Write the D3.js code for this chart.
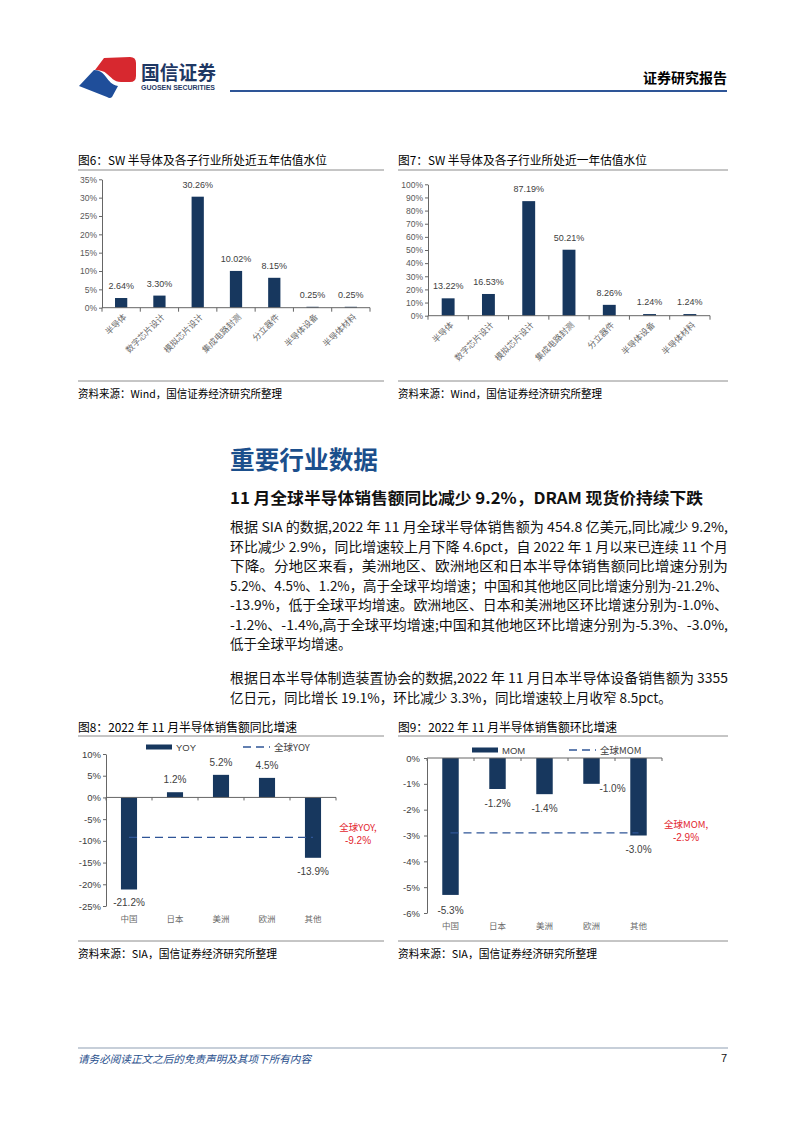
<!DOCTYPE html>
<html><head><meta charset="utf-8">
<script src="https://cdn.jsdelivr.net/npm/d3@7"></script>
<style>body{margin:0;background:#fff}</style>
</head><body>
<svg id="page" width="802" height="1133"></svg>
<script>
// ---------------- data ----------------
const subIndustries = ["半导体","数字芯片设计","模拟芯片设计","集成电路封测","分立器件","半导体设备","半导体材料"];
const valuation5y = [2.64, 3.30, 30.26, 10.02, 8.15, 0.25, 0.25];
const valuation1y = [13.22, 16.53, 87.19, 50.21, 8.26, 1.24, 1.24];
const ticks5y = [0, 5, 10, 15, 20, 25, 30, 35];
const ticks1y = [0, 10, 20, 30, 40, 50, 60, 70, 80, 90, 100];
const regions = ["中国","日本","美洲","欧洲","其他"];
const yoyValues = [-21.2, 1.2, 5.2, 4.5, -13.9];
const globalYoy = -9.2;
const momValues = [-5.3, -1.2, -1.4, -1.0, -3.0];
const globalMom = -2.9;
const ticksYoy = [10, 5, 0, -5, -10, -15, -20, -25];
const ticksMom = [0, -1, -2, -3, -4, -5, -6];
const bodyPara1 = [
  "根据 SIA 的数据,2022 年 11 月全球半导体销售额为 454.8 亿美元,同比减少 9.2%,",
  "环比减少 2.9%，同比增速较上月下降 4.6pct，自 2022 年 1 月以来已连续 11 个月",
  "下降。分地区来看，美洲地区、欧洲地区和日本半导体销售额同比增速分别为",
  "5.2%、4.5%、1.2%，高于全球平均增速；中国和其他地区同比增速分别为-21.2%、",
  "-13.9%，低于全球平均增速。欧洲地区、日本和美洲地区环比增速分别为-1.0%、",
  "-1.2%、-1.4%,高于全球平均增速;中国和其他地区环比增速分别为-5.3%、-3.0%,",
  "低于全球平均增速。"
];
const bodyPara2 = [
  "根据日本半导体制造装置协会的数据,2022 年 11 月日本半导体设备销售额为 3355",
  "亿日元，同比增长 19.1%，环比减少 3.3%，同比增速较上月收窄 8.5pct。"
];

// ---------------- style ----------------
const CJK = "'Noto Sans CJK SC','Noto Sans',sans-serif";
const LAT = "'Liberation Sans',Arial,sans-serif";
const NAVY = "#17375E";
const AXIS = "#666666";
const TXT = "#404040";
const RED = "#E3262F";
const DASH = "#2F5597";

const svg = d3.select("#page");

function txt(x, y, s, o = {}) {
  const t = svg.append("text").attr("x", x).attr("y", y).text(s)
    .attr("font-family", o.family || CJK)
    .attr("font-size", o.size || 12)
    .attr("fill", o.fill || "#000")
    .attr("dominant-baseline", "central")
    .attr("text-anchor", o.anchor || "start");
  if (o.weight) t.attr("font-weight", o.weight);
  if (o.style) t.attr("font-style", o.style);
  if (o.len) t.attr("textLength", o.len).attr("lengthAdjust", "spacingAndGlyphs");
  return t;
}
function hline(x1, x2, y, color, w) {
  svg.append("line").attr("x1", x1).attr("x2", x2).attr("y1", y).attr("y2", y)
    .attr("stroke", color).attr("stroke-width", w);
}

// ---------------- header ----------------
svg.append("path").attr("fill", "#D7282F")
  .attr("d", "M95,70 L104,58 L130,57 Q136,57 136,63 L136,76 Q136,82 130,82 L121,82 C114,82 111,77 107,74 C104,71 100,70 95,70 Z");
svg.append("path").attr("fill", "#1F4E9A")
  .attr("d", "M79,86 L94,70 C100,70 103,73 106,77 C109,81 112,85 118,86 L112,97 Q110,99 107,97 Z");
txt(141, 71, "国信证券", {size: 19, fill: "#1F3864", len: 75, weight: "bold"});
txt(141, 87, "GUOSEN SECURITIES", {family: LAT, size: 7.5, weight: "bold", fill: "#1F3864", len: 74});
txt(727, 77, "证券研究报告", {size: 14, weight: "bold", anchor: "end"});
hline(230, 727, 91, "#2E5597", 2);

// ---------------- positive bar charts (fig 6, 7) ----------------
function valuationChart(o) {
  txt(o.left, 159, o.title, {size: 12, fill: "#000", len: o.titleLen});
  hline(o.left, o.right, 170, "#8C8C8C", 1);
  const x = d3.scaleBand().domain(subIndustries).range([o.x0, o.x1])
    .paddingInner(0.68).paddingOuter(0.34);
  const y = d3.scaleLinear().domain([0, o.max]).range([o.yb, o.yt]);
  const g = svg.append("g");
  g.selectAll("rect.bar").data(o.values).join("rect")
    .attr("x", (d, i) => x(subIndustries[i]))
    .attr("y", d => y(d))
    .attr("width", x.bandwidth())
    .attr("height", d => o.yb - y(d))
    .attr("fill", NAVY);
  g.selectAll("text.val").data(o.values).join("text")
    .attr("x", (d, i) => x(subIndustries[i]) + x.bandwidth() / 2)
    .attr("y", d => y(d) - 12)
    .attr("text-anchor", "middle").attr("dominant-baseline", "central")
    .attr("font-family", LAT).attr("font-size", 9).attr("fill", TXT)
    .text(d => d.toFixed(2) + "%");
  const ya = svg.append("g").attr("transform", `translate(${o.x0},0)`)
    .call(d3.axisLeft(y).tickValues(o.ticks).tickFormat(d => d + "%").tickSize(3).tickSizeOuter(0).tickPadding(2));
  ya.select(".domain").attr("stroke", AXIS);
  ya.selectAll(".tick line").attr("stroke", AXIS);
  ya.selectAll(".tick text").attr("font-family", LAT).attr("font-size", 8.5).attr("fill", "#595959");
  hline(o.x0, o.x1, o.yb, AXIS, 1);
  const step = x.step();
  d3.range(subIndustries.length + 1).forEach(i => {
    const xx = o.x0 + i * step;
    svg.append("line").attr("x1", xx).attr("x2", xx).attr("y1", o.yb).attr("y2", o.yb + 4).attr("stroke", AXIS);
  });
  subIndustries.forEach(c => {
    const cx = x(c) + x.bandwidth() / 2;
    svg.append("text").attr("transform", `translate(${cx + 3},${o.yb + 7}) rotate(-45)`)
      .attr("text-anchor", "end").attr("dominant-baseline", "central")
      .attr("font-family", CJK).attr("font-size", 8.5).attr("fill", "#6b6b6b")
      .text(c);
  });
  hline(o.left, o.right, 381, "#8C8C8C", 1);
  txt(o.left, 393, "资料来源：Wind，国信证券经济研究所整理", {size: 11, len: 204});
}

valuationChart({left: 78, right: 384, title: "图6：SW 半导体及各子行业所处近五年估值水位", titleLen: 249,
  x0: 102, x1: 370, yt: 179.3, yb: 307.7, max: 35, ticks: ticks5y, values: valuation5y});
valuationChart({left: 398, right: 728, title: "图7：SW 半导体及各子行业所处近一年估值水位", titleLen: 249,
  x0: 428, x1: 710, yt: 184.3, yb: 315.7, max: 100, ticks: ticks1y, values: valuation1y});

// ---------------- section text ----------------
txt(230, 458, "重要行业数据", {size: 24.5, weight: "bold", fill: "#1B4F8C", len: 148});
txt(230, 497, "11 月全球半导体销售额同比减少 9.2%，DRAM 现货价持续下跌", {size: 16, weight: "bold", fill: "#111", len: 473});
bodyPara1.forEach((s, i) => {
  const t = txt(230, 526 + i * 19.5, s, {size: 13.5, fill: "#111"});
  if (i < bodyPara1.length - 1) t.attr("textLength", 498).attr("lengthAdjust", "spacingAndGlyphs");
});
bodyPara2.forEach((s, i) => {
  const t = txt(230, 677 + i * 19.5, s, {size: 13.5, fill: "#111"});
  if (i < bodyPara2.length - 1) t.attr("textLength", 498).attr("lengthAdjust", "spacingAndGlyphs");
});

// ---------------- growth charts (fig 8, 9) ----------------
function growthChart(o) {
  txt(o.left, 726, o.title, {size: 12, len: o.titleLen});
  hline(o.left, o.right, 736, "#8C8C8C", 1);
  const x = d3.scaleBand().domain(regions).range([o.x0, o.x1]).paddingInner(0.65).paddingOuter(0.325);
  const y = d3.scaleLinear().domain(o.domain).range([o.yb, o.yt]);
  const y0 = y(0);
  const g = svg.append("g");
  g.selectAll("rect").data(o.values).join("rect")
    .attr("x", (d, i) => x(regions[i]))
    .attr("y", d => Math.min(y(d), y0))
    .attr("width", x.bandwidth())
    .attr("height", d => Math.abs(y(d) - y0))
    .attr("fill", NAVY);
  const ya = svg.append("g").attr("transform", `translate(${o.x0},0)`)
    .call(d3.axisLeft(y).tickValues(o.ticks).tickFormat(d => d + "%").tickSize(3).tickSizeOuter(0).tickPadding(o.tickPad));
  ya.select(".domain").attr("stroke", AXIS);
  ya.selectAll(".tick line").attr("stroke", AXIS);
  ya.selectAll(".tick text").attr("font-family", LAT).attr("font-size", 9.5).attr("fill", TXT);
  hline(o.x0, o.x1, y0, AXIS, 1);
  d3.range(regions.length + 1).forEach(i => {
    const xx = o.x0 + i * x.step();
    svg.append("line").attr("x1", xx).attr("x2", xx).attr("y1", y0).attr("y2", y0 + 3).attr("stroke", AXIS);
  });
  const cx0 = x(regions[0]) + x.bandwidth() / 2, cx1 = x(regions[regions.length - 1]) + x.bandwidth() / 2;
  svg.append("line").attr("x1", cx0).attr("x2", cx1).attr("y1", y(o.global)).attr("y2", y(o.global))
    .attr("stroke", DASH).attr("stroke-width", 1.3).attr("stroke-dasharray", "8,5");
  g.selectAll("text.v").data(o.values).join("text")
    .attr("x", (d, i) => x(regions[i]) + x.bandwidth() / 2 + (o.nudge[i] ? o.nudge[i][0] : 0))
    .attr("y", (d, i) => (d >= 0 ? y(d) - 12.5 : y(d) + o.negOff) + (o.nudge[i] ? o.nudge[i][1] : 0))
    .attr("text-anchor", "middle").attr("dominant-baseline", "central")
    .attr("font-family", LAT).attr("font-size", 10).attr("fill", TXT)
    .text(d => d.toFixed(1) + "%");
  regions.forEach(r => {
    txt(x(r) + x.bandwidth() / 2, o.catY, r, {size: 8.5, fill: "#6b6b6b", anchor: "middle"});
  });
  svg.append("rect").attr("x", o.legX).attr("y", o.legY - 2.5).attr("width", 26).attr("height", 5).attr("fill", NAVY);
  txt(o.legX + 30, o.legY, o.name, {family: LAT, size: 9.5, fill: TXT});
  svg.append("line").attr("x1", o.legX + 97).attr("x2", o.legX + 124).attr("y1", o.legY).attr("y2", o.legY)
    .attr("stroke", DASH).attr("stroke-width", 1.3).attr("stroke-dasharray", "8,5");
  txt(o.legX + 128, o.legY, "全球" + o.name, {size: 9.5, fill: TXT});
  txt(o.annX, o.annY, "全球" + o.name + ",", {size: 9.5, fill: RED, anchor: "middle"});
  txt(o.annX, o.annY + 13, o.global.toFixed(1) + "%", {family: LAT, size: 10, fill: RED, anchor: "middle"});
  hline(o.left, o.right, 941, "#8C8C8C", 1);
  txt(o.left, 953, "资料来源：SIA，国信证券经济研究所整理", {size: 11, len: 199});
}

growthChart({left: 78, right: 384, title: "图8：2022 年 11 月半导体销售额同比增速", titleLen: 219,
  x0: 106, x1: 336, yt: 754, yb: 906, domain: [-25, 10], ticks: ticksYoy, tickPad: 2,
  values: yoyValues, global: globalYoy, name: "YOY", negOff: 13.5, nudge: {},
  catY: 918, legX: 146, legY: 747, annX: 358, annY: 827});
growthChart({left: 398, right: 728, title: "图9：2022 年 11 月半导体销售额环比增速", titleLen: 219,
  x0: 427, x1: 662, yt: 758, yb: 913, domain: [-6, 0], ticks: ticksMom, tickPad: 4,
  values: momValues, global: globalMom, name: "MOM", negOff: 14, nudge: {0: [0, 2], 3: [21, -9]},
  catY: 925, legX: 472, legY: 750, annX: 686, annY: 824});

// ---------------- footer ----------------
hline(78, 728, 1048, "#B4BFCC", 1.5);
txt(78, 1058, "请务必阅读正文之后的免责声明及其项下所有内容", {size: 10.5, fill: "#1F4E8C", style: "italic", len: 233});
txt(727, 1058, "7", {family: LAT, size: 11, anchor: "end", fill: "#111"});
</script>
</body></html>
